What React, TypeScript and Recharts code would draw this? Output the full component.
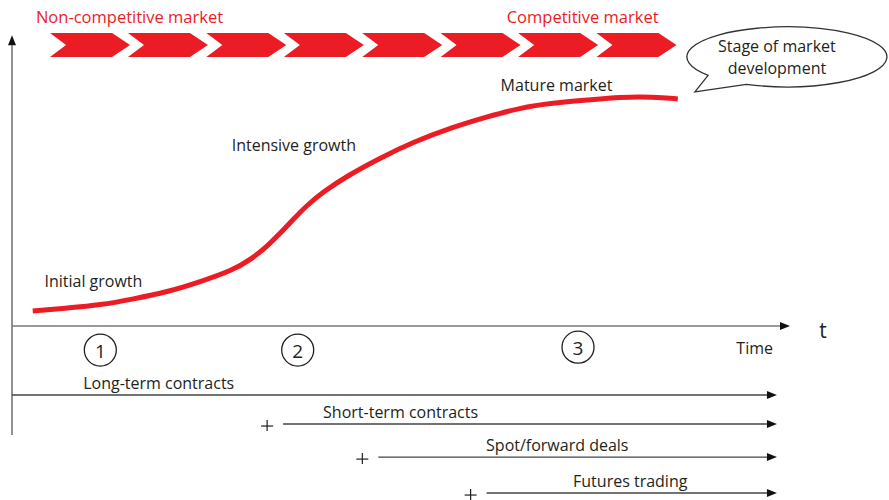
import { ComposedChart, Line, XAxis, YAxis, ReferenceDot, ReferenceLine } from "recharts";

const RED = "#ec1c24";
const INK = "#231f20";
const FONT = "'Open Sans', Lato, sans-serif";

// S-curve: market development level over time
const curveTime = [2.7, 7.2, 11.5, 15.8, 20.2, 24.5, 28.8, 31.0, 33.2, 34.9, 36.6, 38.4, 40.5, 43.6, 47.9, 52.2, 57.4, 61.8, 66.1, 70.4, 74.9, 79.2, 83.5, 86.7];
const curveLevel = [5.2, 6.2, 7.2, 9.3, 11.7, 15.2, 19.3, 22.8, 27.4, 31.9, 36.7, 41.6, 46.2, 51.7, 57.9, 63.4, 68.6, 72.1, 75.2, 76.9, 77.9, 79.0, 79.0, 78.3];
const curveData = curveTime.map((t, i) => ({ t, level: curveLevel[i] }));

// chevron band (stages of market development)
const chevronStarts = [4.95, 15.1, 25.3, 35.4, 45.6, 55.8, 65.9, 76.1];
const chevronLevel = 96.9;
const marketNames = ["Non-competitive market", "Competitive market"];
const marketTimes = [15.3, 74.3];
const marketLevel = 106.6;

// phase labels along the curve
const phaseNames = ["Initial growth", "Intensive growth", "Mature market"];
const phaseTimes = [10.6, 36.7, 70.9];
const phaseLevels = [15.5, 62.4, 83.1];

// numbered stages under the time axis
const stageNums = ["1", "2", "3"];
const stageTimes = [11.5, 37.2, 73.7];
const stageLevels = [-8.3, -8.3, -7.3];

// trading instruments added over time
const contractNames = ["Long-term contracts", "Short-term contracts", "Spot/forward deals", "Futures trading"];
const contractStarts = [0, 35.3, 47.7, 61.8];
const contractEnd = 99.6;
const contractRows = [-23.8, -33.8, -45.2, -57.6];
const contractLabelTimes = [19.1, 50.6, 71.0, 80.5];

const textShape = (text: string, size: number, color = INK) => (p: any) => (
  <text
    x={p.cx}
    y={p.cy}
    textAnchor="middle"
    dominantBaseline="central"
    fontFamily={FONT}
    fontSize={size}
    fill={color}
  >
    {text}
  </text>
);

const arrowShape = (color: string, width: number, plus: boolean) => (p: any) => {
  const { x1, y1, x2, y2 } = p;
  const len = Math.hypot(x2 - x1, y2 - y1) || 1;
  const ux = (x2 - x1) / len;
  const uy = (y2 - y1) / len;
  const hl = 10;
  const hw = 4;
  const bx = x2 - ux * hl;
  const by = y2 - uy * hl;
  const px = x1 - 16;
  const py = y1 + 2;
  return (
    <g>
      <line x1={x1} y1={y1} x2={bx} y2={by} stroke={color} strokeWidth={width} />
      <polygon
        points={`${x2},${y2} ${bx - uy * hw},${by + ux * hw} ${bx + uy * hw},${by - ux * hw}`}
        fill="#111"
      />
      {plus && (
        <g stroke={INK} strokeWidth={1.2}>
          <line x1={px - 6} y1={py} x2={px + 6} y2={py} />
          <line x1={px} y1={py - 6} x2={px} y2={py + 5} />
        </g>
      )}
    </g>
  );
};

const chevronShape = (p: any) => {
  const x = p.cx;
  const y = p.cy;
  return (
    <polygon
      points={`${x},${y - 12} ${x + 62},${y - 12} ${x + 80},${y} ${x + 62},${y + 12} ${x},${y + 12} ${x + 16},${y}`}
      fill={RED}
    />
  );
};

const circleShape = (num: string) => (p: any) => (
  <g>
    <circle cx={p.cx} cy={p.cy} r={16} fill="none" stroke={INK} strokeWidth={1.3} />
    <text x={p.cx} y={p.cy + 1} textAnchor="middle" dominantBaseline="central" fontFamily={FONT} fontSize={19} fill={INK}>
      {num}
    </text>
  </g>
);

const bubbleShape = (p: any) => {
  const cx = p.cx;
  const cy = p.cy;
  const rx = 100;
  const ry = 30;
  const pt = (deg: number) => {
    const a = (deg * Math.PI) / 180;
    return [cx + rx * Math.cos(a), cy + ry * Math.sin(a)];
  };
  const [ax, ay] = pt(142);
  const [bx, by] = pt(114);
  const d = `M ${ax} ${ay} A ${rx} ${ry} 0 1 1 ${bx} ${by} L ${cx - 92} ${cy + 35} Z`;
  return (
    <g>
      <path d={d} fill="#fff" stroke="#333" strokeWidth={1.3} />
      <text x={cx - 10} y={cy - 11} textAnchor="middle" dominantBaseline="central" fontFamily={FONT} fontSize={16} fill={INK}>
        Stage of market
      </text>
      <text x={cx - 10} y={cy + 11} textAnchor="middle" dominantBaseline="central" fontFamily={FONT} fontSize={16} fill={INK}>
        development
      </text>
    </g>
  );
};

export default function App() {
  return (
    <div style={{ position: "absolute", left: 0, top: 0, width: 889, height: 500, background: "#fff" }}>
      <ComposedChart
        width={889}
        height={500}
        data={curveData}
        margin={{ top: 36, right: 109, bottom: 0, left: 12 }}
      >
        <XAxis dataKey="t" type="number" domain={[0, 100]} hide allowDataOverflow />
        <YAxis type="number" domain={[-60, 100]} hide allowDataOverflow />

        {/* axes */}
        <ReferenceLine
          segment={[{ x: 0, y: -37.6 }, { x: 0, y: 100.3 }]}
          ifOverflow="visible"
          shape={arrowShape("#777", 1.6, false)}
        />
        <ReferenceLine
          segment={[{ x: 0, y: 0 }, { x: 101.3, y: 0 }]}
          ifOverflow="visible"
          shape={arrowShape("#777", 1.6, false)}
        />
        <ReferenceDot x={105.6} y={-1.4} r={0} ifOverflow="visible" shape={textShape("t", 21)} />
        <ReferenceDot x={96.7} y={-7.6} r={0} ifOverflow="visible" shape={textShape("Time", 16)} />

        {chevronStarts.map((t, i) => (
          <ReferenceDot key={`c${i}`} x={t} y={chevronLevel} r={0} ifOverflow="visible" shape={chevronShape} />
        ))}
        {marketNames.map((name, i) => (
          <ReferenceDot key={`m${i}`} x={marketTimes[i]} y={marketLevel} r={0} ifOverflow="visible" shape={textShape(name, 16.5, RED)} />
        ))}
        <ReferenceDot x={100.9} y={92.8} r={0} ifOverflow="visible" shape={bubbleShape} />

        <Line
          dataKey="level"
          type="basis"
          stroke={RED}
          strokeWidth={5}
          dot={false}
          activeDot={false}
          isAnimationActive={false}
        />

        {phaseNames.map((name, i) => (
          <ReferenceDot key={`p${i}`} x={phaseTimes[i]} y={phaseLevels[i]} r={0} ifOverflow="visible" shape={textShape(name, 16)} />
        ))}
        {stageNums.map((n, i) => (
          <ReferenceDot key={`s${i}`} x={stageTimes[i]} y={stageLevels[i]} r={0} ifOverflow="visible" shape={circleShape(n)} />
        ))}

        {contractNames.map((name, i) => (
          <ReferenceLine
            key={`l${i}`}
            segment={[{ x: contractStarts[i], y: contractRows[i] }, { x: contractEnd, y: contractRows[i] }]}
            ifOverflow="visible"
            shape={arrowShape("#444", 1.4, i > 0)}
          />
        ))}
        {contractNames.map((name, i) => (
          <ReferenceDot key={`n${i}`} x={contractLabelTimes[i]} y={contractRows[i] + 4.1} r={0} ifOverflow="visible" shape={textShape(name, 16)} />
        ))}
      </ComposedChart>
    </div>
  );
}
